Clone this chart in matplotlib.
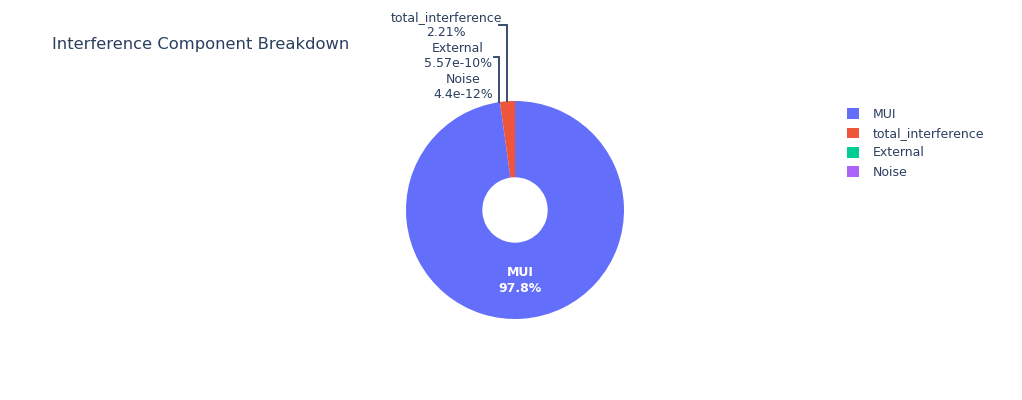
import numpy as np
import matplotlib
matplotlib.use("Agg")
import matplotlib.pyplot as plt
from matplotlib.patches import Patch

labels = ["MUI", "total_interference", "External", "Noise"]
values = [97.79, 2.21, 5.57e-10, 4.4e-12]
pct_text = ["97.8%", "2.21%", "5.57e-10%", "4.4e-12%"]
colors = ["#636efa", "#EF553B", "#00cc96", "#ab63fa"]
title = "Interference Component Breakdown"

TXT = "#2a3f5f"
plt.rcParams['font.family'] = ['DejaVu Sans']

W, H = 1022, 400
fig = plt.figure(figsize=(W / 100, H / 100), dpi=100)
ax = fig.add_axes([0, 0, 1, 1])
R = 109.0        # pie radius, px
cx, cy = 515.0, 210.0  # pie center, px

def px(x, y):
    return ((x - cx) / R, (cy - y) / R)

wedges, _ = ax.pie(values, colors=colors, startangle=90, counterclock=False,
                   radius=1.0, wedgeprops=dict(width=0.7, linewidth=0))
ax.set_aspect("auto")
ax.set_xlim(-cx / R, (W - cx) / R)
ax.set_ylim(-(H - cy) / R, cy / R)
ax.axis("off")

# inside label for MUI
w = wedges[0]
mid = np.deg2rad((w.theta1 + w.theta2) / 2)
ax.text(0.65 * np.cos(mid), 0.65 * np.sin(mid), f"{labels[0]}\n{pct_text[0]}",
        ha="center", va="center", color="white", fontsize=9, fontweight="bold",
        linespacing=1.25)

# outside labels: (index, text centre px, bracket y, bracket x start, bracket x end)
outside_specs = [
    (1, (446, 25), 25, 499, 507),
    (2, (458, 56), 57, 494, 499),
    (3, (463, 87), None, None, None),
]
for i, (tx, ty), by, x0, x1 in outside_specs:
    a, b = px(tx, ty)
    ax.text(a, b, f"{labels[i]}\n{pct_text[i]}", ha="center", va="center",
            color=TXT, fontsize=9, linespacing=1.25)
    if by is None:
        continue
    xs0, ys0 = px(x0, by)
    xs1, _ = px(x1, by)
    ye = np.sqrt(max(1 - xs1 ** 2, 0))
    ax.plot([xs0, xs1, xs1], [ys0, ys0, ye], color=TXT, lw=1.3,
            solid_joinstyle="miter")

fig.text(52 / W, 1 - 45 / H, title, ha="left", va="center", color=TXT,
         fontsize=11.8)

handles = [Patch(facecolor=c, edgecolor="none") for c in colors]
fig.legend(handles, labels, loc="upper left",
           bbox_to_anchor=(847 / W, 1 - 108 / H), frameon=False,
           fontsize=9, handlelength=0.95, handleheight=0.95,
           handletextpad=1.1, labelspacing=0.5, labelcolor=TXT,
           borderaxespad=0, borderpad=0)

fig.savefig("out.png", dpi=100)
